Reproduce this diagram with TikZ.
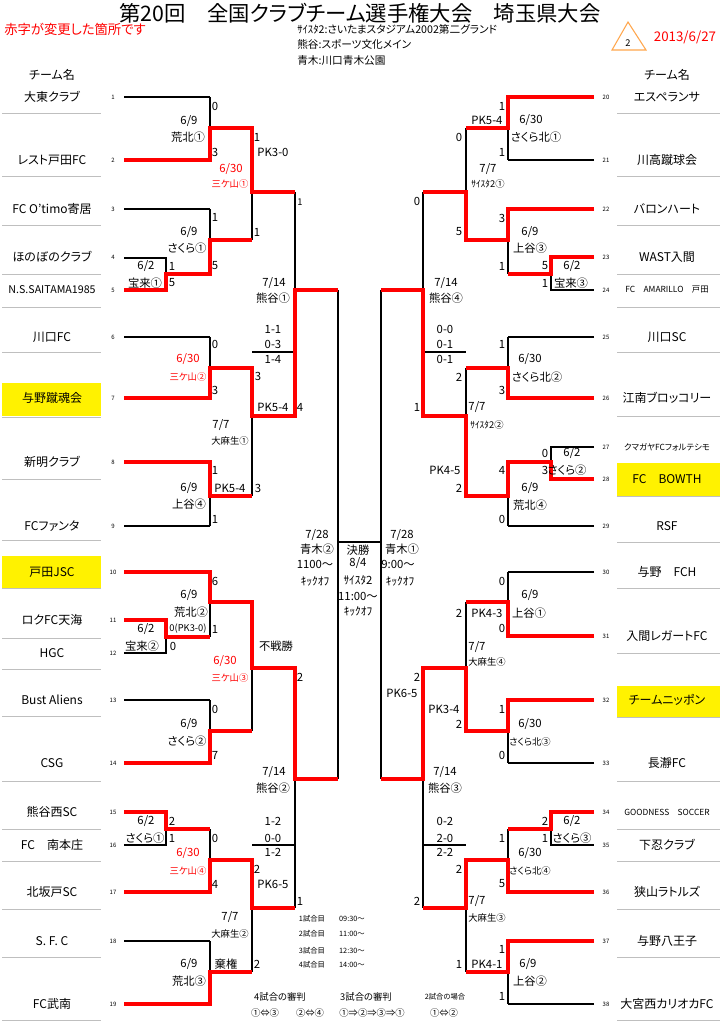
\documentclass[tikz,border=0pt]{standalone}
\usepackage{fontspec}
\setmainfont{Noto Sans CJK JP}[RawFeature=+palt]

\begin{document}
\begin{tikzpicture}[x=0.75pt,y=-0.75pt,
  every node/.style={inner sep=0pt},
  bk/.style={draw=black,line width=0.9pt},
  win/.style={draw=red,line width=3pt,line join=miter},
  gline/.style={draw=black!25,line width=0.7pt},
  team/.style={font=\fontsize{9}{9}\selectfont},
  teamS/.style={font=\fontsize{8}{8}\selectfont},
  teamT/.style={font=\fontsize{6.3}{7}\selectfont},
  num/.style={font=\fontsize{4.5}{5}\selectfont},
  sc/.style={font=\fontsize{8.5}{9}\selectfont},
  sm/.style={font=\fontsize{7}{7}\selectfont},
  tinytxt/.style={font=\fontsize{5.5}{6}\selectfont},
  hl/.style={fill=yellow}]
\fill[white] (0,0) rectangle (720,1022);
\useasboundingbox (0,0) rectangle (720,1022);

% header
\node[font=\fontsize{16}{16}\selectfont] (title) at (360,13) {第20回　全国クラブチーム選手権大会　埼玉県大会};
\node[font=\fontsize{10}{10}\selectfont,text=red] (note) at (75,29) {赤字が変更した箇所です};
\node[font=\fontsize{8}{8}\selectfont,anchor=west] (v1) at (297,29) {ｻｲｽﾀ2:さいたまスタジアム2002第二グランド};
\node[font=\fontsize{8}{8}\selectfont,anchor=west] (v2) at (297,44) {熊谷:スポーツ文化メイン};
\node[font=\fontsize{8}{8}\selectfont,anchor=west] (v3) at (297,60) {青木:川口青木公園};
\draw[orange!70,line width=0.8pt] (628,22) -- (646,50) -- (612,50) -- cycle;
\node[sm] (rev) at (628,43) {2};
\node[font=\fontsize{10}{10}\selectfont,text=red] (date) at (685,37) {2013/6/27};
\node[team] (hL) at (52,75) {チーム名};
\node[team] (hR) at (667,75) {チーム名};

% name columns
\fill[hl] (2,383) rectangle (101,416);
\fill[hl] (2,556) rectangle (101,588);
\fill[hl] (617,463) rectangle (720,496);
\fill[hl] (617,686) rectangle (720,717);
\foreach \y in {113,176,225,274,307,352,417,479,540,588,638,669,716,781,829,861,909,957,1020}
  \draw[gline] (2,\y) -- (101,\y);
\foreach \y in {113,176,225,274,307,352,416,496,542,588,653,717,781,829,861,909,957,1020}
  \draw[gline] (617,\y) -- (720,\y);

\foreach \n/\y/\t/\f in {1/97/大東クラブ/team, 2/160/レスト戸田FC/team, 3/209/FC O’timo寄居/team,
    4/257/ほのぼのクラブ/team, 5/290/N.S.SAITAMA1985/teamS, 6/337/川口FC/team, 7/398/与野蹴魂会/team,
    8/462/新明クラブ/team, 9/526/FCファンタ/team, 10/572/戸田JSC/team, 11/620/ロクFC天海/team,
    12/653/HGC/team, 13/700/Bust Aliens/team, 14/763/CSG/team, 15/812/熊谷西SC/team,
    16/845/FC　南本庄/team, 17/892/北坂戸SC/team, 18/941/S. F. C/team, 19/1004/FC武南/team}
  {\node[\f] (L\n) at (52,\y) {\t};
   \node[num] (nL\n) at (113,\y) {\n};}
\foreach \n/\y/\t/\f in {20/97/エスペランサ/team, 21/160/川高蹴球会/team, 22/209/バロンハート/team,
    23/257/WAST入間/team, 24/290/FC　AMARILLO　戸田/teamT, 25/337/川口SC/team, 26/398/江南ブロッコリー/team,
    27/447/クマガヤFCフォルテシモ/teamT, 28/479/FC　BOWTH/team, 29/526/RSF/team, 30/572/与野　FCH/team,
    31/636/入間レガートFC/team, 32/700/チームニッポン/team, 33/763/長瀞FC/team, 34/812/GOODNESS　SOCCER/teamT,
    35/845/下忍クラブ/team, 36/892/狭山ラトルズ/team, 37/941/与野八王子/team, 38/1004/大宮西カリオカFC/team}
  {\node[\f] (R\n) at (667,\y) {\t};
   \node[num] (nR\n) at (606,\y) {\n};}

% left bracket
\foreach \y in {97,160,209,337,398,462,526,572,700,763,892,941,1004}
  \draw[bk] (124,\y) -- (210,\y);
\foreach \a/\b/\o in {258/290/274, 620/653/637, 812/845/829}
  \draw[bk] (124,\a) -| (166,\b) -- (124,\b) (166,\o) -- (210,\o);
\foreach \a/\b/\o in {97/160/128, 209/274/240, 337/398/368, 462/526/496, 572/637/602, 700/763/731, 829/892/860, 941/1004/972}
  \draw[bk] (210,\a) -- (210,\b) (210,\o) -- (252,\o);

% right bracket
\foreach \y in {97,160,209,337,398,526,572,636,700,763,892,941,1004}
  \draw[bk] (594,\y) -- (508,\y);
\foreach \a/\b/\o in {257/290/274, 447/479/462, 812/845/829}
  \draw[bk] (594,\a) -| (551,\b) -- (594,\b) (551,\o) -- (508,\o);
\foreach \a/\b/\o in {97/160/128, 209/274/240, 337/398/368, 462/526/496, 572/636/602, 700/763/731, 829/892/860, 941/1004/972}
  \draw[bk] (508,\a) -- (508,\b) (508,\o) -- (466,\o);

% later rounds, both sides
\foreach \a/\b/\o in {128/240/192, 368/496/416, 602/731/668, 860/972/908}
  \draw[bk] (252,\a) -- (252,\b) (252,\o) -- (295,\o)
            (466,\a) -- (466,\b) (466,\o) -- (423,\o);
\foreach \a/\b/\o in {192/416/290, 668/908/779}
  \draw[bk] (295,\a) -- (295,\b) (295,\o) -- (338,\o)
            (423,\a) -- (423,\b) (423,\o) -- (381,\o);
\draw[bk] (338,290) -- (338,779) (381,290) -- (381,779) (338,542) -- (381,542);
\foreach \y in {352,845}
  \draw[bk] (252,\y) -- (295,\y) (423,\y) -- (466,\y);

% winners
\draw[win] (124,160) -- (210,160) -- (210,128) -- (252,128) -- (252,192) -- (295,192);
\draw[win] (124,290) -- (166,290) -- (166,274) -- (210,274) -- (210,240) -- (252,240);
\draw[win] (124,398) -- (210,398) -- (210,368) -- (252,368) -- (252,416) -- (295,416) -- (295,290) -- (338,290);
\draw[win] (124,462) -- (210,462) -- (210,496) -- (252,496);
\draw[win] (124,572) -- (210,572) -- (210,602) -- (252,602) -- (252,668) -- (295,668) -- (295,779) -- (338,779);
\draw[win] (124,620) -- (166,620) -- (166,637) -- (210,637);
\draw[win] (124,763) -- (210,763) -- (210,731) -- (252,731);
\draw[win] (124,812) -- (166,812) -- (166,829) -- (210,829);
\draw[win] (124,892) -- (210,892) -- (210,860) -- (252,860) -- (252,908) -- (295,908);
\draw[win] (124,1004) -- (210,1004) -- (210,972) -- (252,972);
\draw[win] (594,97) -- (508,97) -- (508,128) -- (466,128);
\draw[win] (594,209) -- (508,209) -- (508,240) -- (466,240) -- (466,192) -- (423,192);
\draw[win] (594,257) -- (551,257) -- (551,274) -- (508,274);
\draw[win] (594,398) -- (508,398) -- (508,368) -- (466,368);
\draw[win] (594,479) -- (551,479) -- (551,462) -- (508,462) -- (508,496) -- (466,496) -- (466,416) -- (423,416) -- (423,290) -- (381,290);
\draw[win] (594,636) -- (508,636) -- (508,602) -- (466,602);
\draw[win] (594,700) -- (508,700) -- (508,731) -- (466,731) -- (466,668) -- (423,668) -- (423,779) -- (381,779);
\draw[win] (594,812) -- (551,812) -- (551,829) -- (508,829);
\draw[win] (594,892) -- (508,892) -- (508,860) -- (466,860) -- (466,908) -- (423,908);
\draw[win] (594,941) -- (508,941) -- (508,972) -- (466,972);

% scores, dates, grounds
\foreach[count=\i] \x/\y/\t in {215/106/0, 189/121/{6/9}, 188/137/荒北①, 215/152/3, 257/137/1, 273/152/PK3-0,
    215/217/1, 189/232/{6/9}, 187/248/さくら①, 257/232/1, 215/266/5, 146/266/{6/2}, 172/266/1, 145/283/宝来①,
    172/283/5, 274/283/{7/14}, 273/298/熊谷①, 273/329/1-1, 273/344/0-3, 273/359/1-4, 215/344/0, 258/376/3,
    215/390/3, 273/407/PK5-4, 300/407/4, 221/425/{7/7}, 215/470/1, 189/488/{6/9}, 230/488/PK5-4, 258/488/3,
    189/504/上谷④, 215/519/1, 317/535/{7/28}, 317/549/青木②, 315/564/1100〜, 315/581/ｷｯｸｵﾌ,
    215/581/6, 189/595/{6/9}, 191/612/荒北②, 146/629/{6/2}, 215/629/1, 142/646/宝来②, 173/646/0, 276/646/不戦勝,
    300/677/2, 215/709/0, 189/724/{6/9}, 187/741/さくら②, 215/755/7, 274/772/{7/14}, 273/788/熊谷②,
    146/821/{6/2}, 172/821/2, 145/838/さくら①, 172/838/1, 215/838/0, 273/821/1-2, 273/838/0-0, 273/852/1-2,
    257/869/2, 273/884/PK6-5, 215/884/4, 300/901/1, 230/917/{7/7}, 189/964/{6/9}, 226/964/棄権, 257/964/2,
    189/981/荒北③}
  \node[sc] (sl\i) at (\x,\y) {\t};
\foreach[count=\i] \x/\y/\t in {358/550/決勝, 358/563/{8/4}, 358/580/ｻｲｽﾀ2, 358/596/11:00〜, 358/611/ｷｯｸｵﾌ}
  \node[sc] (fin\i) at (\x,\y) {\t};
\foreach[count=\i] \x/\y/\t in {502/106/1, 487/120/PK5-4, 531/120/{6/30}, 536/137/さくら北①, 459/137/0, 502/152/1,
    488/169/{7/7}, 417/201/0, 502/218/3, 530/232/{6/9}, 459/232/5, 530/248/上谷③, 502/266/1, 545/266/5,
    572/266/{6/2}, 545/283/1, 571/283/宝来③, 446/283/{7/14}, 446/298/熊谷④, 445/329/0-0, 445/344/0-1,
    445/359/0-1, 502/344/1, 530/359/{6/30}, 459/377/2, 537/377/さくら北②, 502/390/3, 417/407/1, 477/407/{7/7},
    545/453/0, 572/453/{6/2}, 502/470/4, 545/470/3, 567/470/さくら②, 445/470/PK4-5, 459/488/2, 530/488/{6/9},
    530/505/荒北④, 502/519/0, 402/535/{7/28}, 402/549/青木①, 398/564/9:00〜, 400/581/ｷｯｸｵﾌ,
    502/581/0, 530/595/{6/9}, 459/613/2, 487/613/PK4-3, 529/613/上谷①, 502/628/0, 477/647/{7/7}, 417/677/2,
    402/693/PK6-5, 502/709/1, 444/709/PK3-4, 530/724/{6/30}, 459/724/2, 502/755/0, 445/772/{7/14}, 445/788/熊谷③,
    445/821/0-2, 445/838/2-0, 445/852/2-2, 545/821/2, 572/821/{6/2}, 545/838/1, 572/838/さくら③, 502/838/1,
    530/853/{6/30}, 459/869/2, 502/884/5, 417/901/2, 477/901/{7/7}, 502/949/1, 459/964/1, 487/964/PK4-1,
    528/964/{6/9}, 530/981/上谷②, 502/996/1}
  \node[sc] (sr\i) at (\x,\y) {\t};
\foreach[count=\i] \x/\y/\t in {231/169/{6/30}, 188/359/{6/30}, 225/661/{6/30}, 188/853/{6/30}}
  \node[sc,text=red] (rd\i) at (\x,\y) {\t};
\foreach[count=\i] \x/\y/\t in {230/184/三ケ山①, 188/377/三ケ山②, 230/678/三ケ山③, 188/871/三ケ山④}
  \node[sm,text=red] (rv\i) at (\x,\y) {\t};
\foreach[count=\i] \x/\y/\t in {300/202/1, 230/441/大麻生①, 230/934/大麻生②, 188/629/0(PK3-0), 488/184/ｻｲｽﾀ2①,
    487/425/ｻｲｽﾀ2②, 487/662/大麻生④, 530/742/さくら北③, 530/871/さくら北④, 487/918/大麻生③}
  \node[sm] (sv\i) at (\x,\y) {\t};

% timetable and referees
\foreach[count=\i] \y/\t in {919/09:30〜, 934/11:00〜, 951/12:30〜, 965/14:00〜}
  {\node[tinytxt] (g\i) at (312,\y) {{\i}試合目};
   \node[tinytxt] (k\i) at (352,\y) {\t};}
\node[sm] (ref4) at (280,997) {4試合の審判};
\node[sm] (ref4a) at (265,1013) {①⇔③};
\node[sm] (ref4b) at (310,1013) {②⇔④};
\node[sm] (ref3) at (366,997) {3試合の審判};
\node[sm] (ref3a) at (372,1013) {①⇒②⇒③⇒①};
\node[tinytxt] (ref2) at (445,997) {2試合の場合};
\node[sm] (ref2a) at (444,1013) {①⇔②};
\end{tikzpicture}
\end{document}
